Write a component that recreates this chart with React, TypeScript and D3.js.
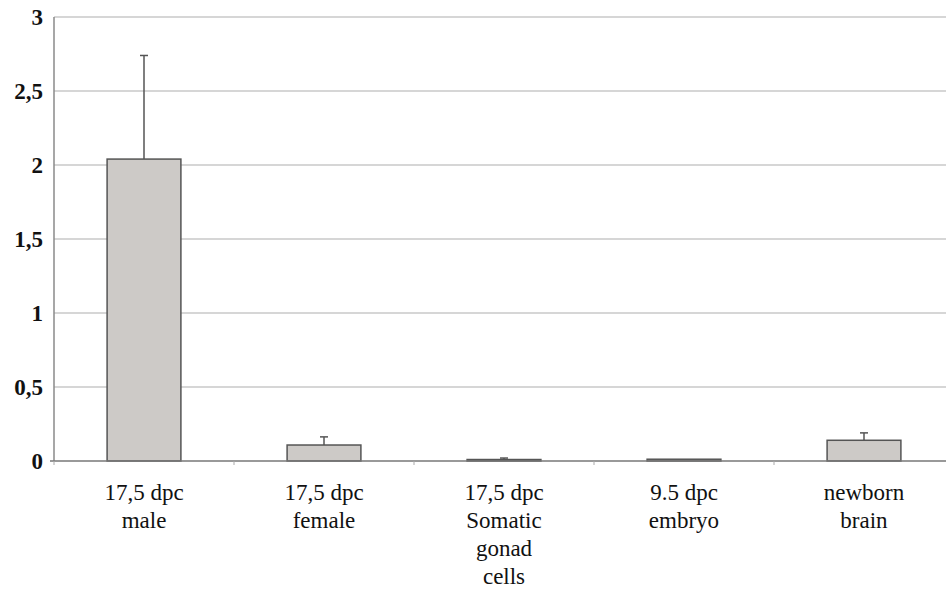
import React, { useEffect, useRef } from 'react'
import * as d3 from 'd3'

const categories = [
  ['17,5 dpc', 'male'],
  ['17,5 dpc', 'female'],
  ['17,5 dpc', 'Somatic', 'gonad', 'cells'],
  ['9.5 dpc', 'embryo'],
  ['newborn', 'brain'],
]
const values = [2.04, 0.108, 0.01, 0.012, 0.14]
const errors = [0.7, 0.055, 0.01, 0, 0.05]
const yTicks = [0, 0.5, 1, 1.5, 2, 2.5, 3]

const W = 946
const H = 589

export default function App() {
  const ref = useRef<SVGSVGElement>(null)

  useEffect(() => {
    const svg = d3.select(ref.current)
    svg.selectAll('*').remove()
    const keys = categories.map((c, i) => String(i))
    const x = d3.scaleBand<string>().domain(keys).range([54, 954]).padding(0)
    const y = d3.scaleLinear().domain([0, 3]).range([461, 17])
    const fmt = (v: number) => String(v).replace('.', ',')
    const barW = x.bandwidth() * 0.41
    const cx = (i: number) => x(keys[i])! + x.bandwidth() / 2

    // grid
    svg.append('g').selectAll('line').data(yTicks.slice(1)).join('line')
      .attr('x1', 54).attr('x2', W).attr('y1', (d) => y(d)).attr('y2', (d) => y(d))
      .attr('stroke', '#c9c9c9').attr('stroke-width', 1.5)

    svg.append('g').selectAll('text').data(yTicks).join('text')
      .attr('x', 43).attr('y', (d) => y(d)).attr('dy', '0.35em')
      .attr('text-anchor', 'end').attr('font-family', 'Liberation Serif')
      .attr('font-size', 23).attr('font-weight', 'bold').attr('fill', '#111')
      .text((d) => fmt(d))

    // error bars
    const eb = svg.append('g').attr('stroke', '#555').attr('stroke-width', 1.5)
    values.forEach((v, i) => {
      if (errors[i] <= 0) return
      const top = y(v + errors[i])
      eb.append('line').attr('x1', cx(i)).attr('x2', cx(i)).attr('y1', y(v)).attr('y2', top)
      eb.append('line').attr('x1', cx(i) - 4).attr('x2', cx(i) + 4).attr('y1', top).attr('y2', top)
    })

    // bars
    svg.append('g').selectAll('rect').data(values).join('rect')
      .attr('x', (d, i) => cx(i) - barW / 2).attr('y', (d) => y(d))
      .attr('width', barW).attr('height', (d) => y(0) - y(d))
      .attr('fill', '#cdcac7').attr('stroke', '#555').attr('stroke-width', 1.5)

    // axes
    svg.append('line').attr('x1', 54).attr('x2', 54).attr('y1', 17).attr('y2', 461)
      .attr('stroke', '#8a8a8a').attr('stroke-width', 1.5)
    svg.append('line').attr('x1', 50).attr('x2', W).attr('y1', 461).attr('y2', 461)
      .attr('stroke', '#777').attr('stroke-width', 1.5)
    svg.append('g').selectAll('line').data(keys).join('line')
      .attr('x1', (k) => x(k)!).attr('x2', (k) => x(k)!).attr('y1', 461).attr('y2', 465)
      .attr('stroke', '#aaa')

    const labels = svg.append('g').selectAll('text').data(categories).join('text')
      .attr('text-anchor', 'middle').attr('font-family', 'Liberation Serif')
      .attr('font-size', 23).attr('fill', '#111')
    labels.each(function (lines, i) {
      d3.select(this).selectAll('tspan').data(lines).join('tspan')
        .attr('x', cx(i)).attr('y', (d, j) => 500 + j * 28).text((d) => d)
    })
  }, [])

  return <svg ref={ref} width={W} height={H} style={{ position: 'absolute', left: 0, top: 0, background: '#fff' }} />
}
